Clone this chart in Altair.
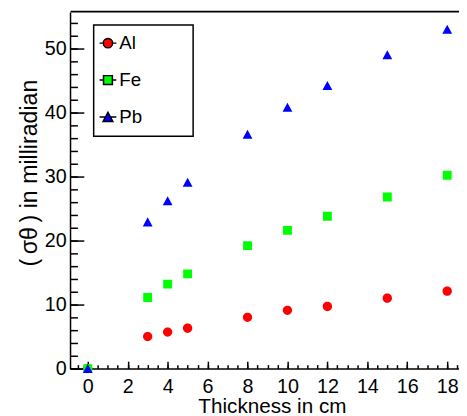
import altair as alt
import pandas as pd

# ---- data ----
thickness = [0, 3, 4, 5, 8, 10, 12, 15, 18]
al_values = [0, 5.0, 5.7, 6.3, 8.0, 9.1, 9.7, 11.0, 12.1]
fe_values = [0, 11.1, 13.2, 14.8, 19.2, 21.6, 23.8, 26.8, 30.2]
pb_values = [0, 22.9, 26.2, 29.1, 36.6, 40.8, 44.2, 49.0, 53.0]
series_names = ["Al", "Fe", "Pb"]
series_colors = ["#ff0000", "#00ff00", "#0000ff"]

x_major = [0, 2, 4, 6, 8, 10, 12, 14, 16, 18]
x_minor = [v / 2 for v in range(-1, 38)]
y_major = [0, 10, 20, 30, 40, 50]
y_minor = list(range(0, 56, 2))

rows = []
for name, vals in zip(series_names, [al_values, fe_values, pb_values]):
    for t, v in zip(thickness, vals):
        rows.append({"series": name, "x": t, "y": v})
df = pd.DataFrame(rows)

W, H = 395, 362
FONT = "Liberation Sans"

# marker shapes (the short horizontal segments are only stroked in the legend)
shape_paths = [
    "M-1,0A1,1,0,1,1,1,0A1,1,0,1,1,-1,0Z M-1.8,0H-1M1,0H1.8",
    "M-0.95,-0.95H0.95V0.95H-0.95Z M-1.8,0H-0.95M0.95,0H1.8",
    "M0,-1L1.05,0.95L-1.05,0.95Z M-1.8,0H-0.55M0.55,0H1.8",
]

xs = alt.Scale(domain=[-0.888, 18.59], nice=False, zero=False)
ys = alt.Scale(domain=[0, 55.69], nice=False, zero=False)
cs = alt.Scale(domain=series_names, range=series_colors)
ss = alt.Scale(domain=series_names, range=shape_paths)

leg = alt.Legend(
    orient="none", legendX=24, legendY=13, title=None, padding=9,
    strokeColor="black", fillColor="white", labelFont=FONT, labelFontSize=19,
    labelColor="black", rowPadding=17.5, symbolSize=90,
    labelOffset=2, symbolOffset=-4, symbolOpacity=1,
    labelExpr="datum.label + '        \u200b'",
)

base = alt.Chart(df)

# invisible copy of the points that carries the legend (with black line strokes)
legend_layer = base.mark_point(
    filled=True, size=90, opacity=0, stroke="black", strokeWidth=1
).encode(
    x=alt.X("x:Q", scale=xs, axis=None),
    y=alt.Y("y:Q", scale=ys, axis=None),
    color=alt.Color("series:N", scale=cs, legend=leg),
    shape=alt.Shape("series:N", scale=ss, legend=leg),
)

points = base.mark_point(filled=True, size=90, opacity=1).encode(
    x=alt.X("x:Q", scale=xs, axis=alt.Axis(
        orient="bottom", values=x_major, ticks=False, tickSize=0, labelPadding=8,
        labelFontSize=20, labelFlush=False, labelOverlap=False,
        domainWidth=1.5, title="Thickness in cm", titleFontSize=21,
        titleX=205, titleY=45, titleBaseline="alphabetic", titleAlign="center",
        titleAnchor="middle")),
    y=alt.Y("y:Q", scale=ys, axis=alt.Axis(
        orient="left", values=y_major, ticks=False, tickSize=0, labelPadding=4,
        labelFontSize=20, labelFlush=False, labelOverlap=False, domainWidth=1.5,
        title="(\u2009σθ\u2009) in milliradian", titleFontSize=23.5, titleAngle=270,
        titleX=-34, titleY=163, titleBaseline="alphabetic", titleAlign="center",
        titleAnchor="middle")),
    color=alt.Color("series:N", scale=cs, legend=None),
    shape=alt.Shape("series:N", scale=ss, legend=None),
)

major = base.mark_point(opacity=0).encode(
    x=alt.X("x:Q", scale=xs, axis=alt.Axis(
        orient="top", offset=-H, values=x_major, ticks=True, tickSize=7.5,
        tickWidth=1.5, labels=False, domain=False, title=None)),
    y=alt.Y("y:Q", scale=ys, axis=alt.Axis(
        orient="right", offset=-W, values=y_major, ticks=True, tickSize=14,
        tickWidth=1.5, labels=False, domain=False, title=None)),
)

minor = base.mark_point(opacity=0).encode(
    x=alt.X("x:Q", scale=xs, axis=alt.Axis(
        orient="top", offset=-H, values=x_minor, ticks=True, tickSize=4,
        tickWidth=1.5, labels=False, domain=False, title=None)),
    y=alt.Y("y:Q", scale=ys, axis=alt.Axis(
        orient="right", offset=-W, values=y_minor, ticks=True, tickSize=7.5,
        tickWidth=1.5, labels=False, domain=False, title=None)),
)

frame = base.mark_point(opacity=0).encode(
    x=alt.X("x:Q", scale=xs, axis=alt.Axis(
        orient="top", offset=1, ticks=False, labels=False, domain=True,
        domainWidth=2, title=None)),
    y=alt.Y("y:Q", scale=ys, axis=None),
)

chart = (
    alt.layer(legend_layer, points, major, minor, frame)
    .resolve_scale(x="shared", y="shared", color="shared", shape="shared")
    .resolve_axis(x="independent", y="independent")
    .properties(
        width=W, height=H,
        padding={"left": 63, "top": 1, "right": 0, "bottom": 46},
        autosize=alt.AutoSizeParams(type="none"),
    )
    .configure_view(stroke=None)
    .configure_axis(
        labelFont=FONT, titleFont=FONT, labelColor="black", titleColor="black",
        domainColor="black", tickColor="black", grid=False, titleFontWeight="normal",
    )
    .configure_legend(strokeWidth=1.5, cornerRadius=0)
)

chart.save("out.html", embed_options={"renderer": "svg", "actions": False})
